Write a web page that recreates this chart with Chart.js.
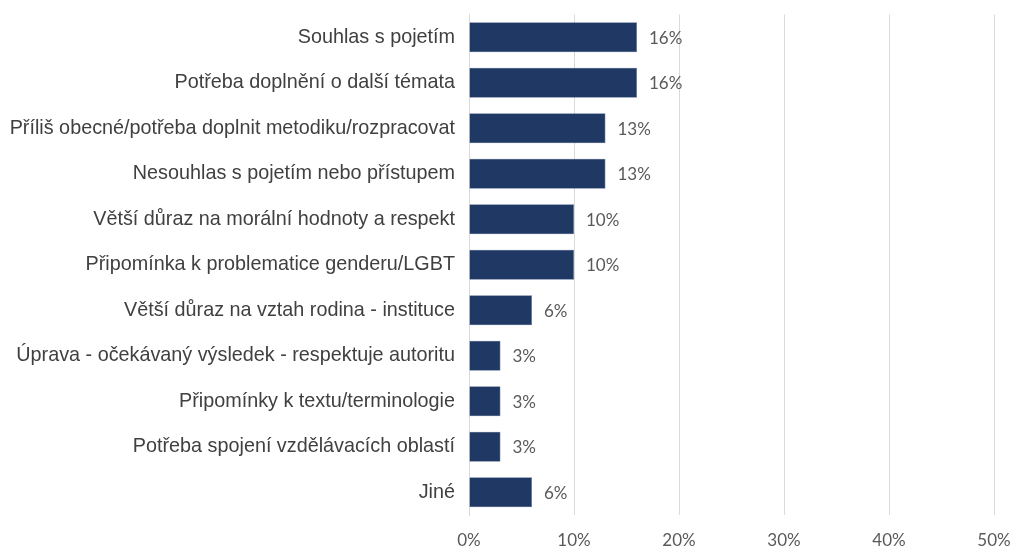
<!DOCTYPE html>
<html>
<head>
<meta charset="utf-8">
<script src="https://cdn.jsdelivr.net/npm/chart.js@4"></script>
<style>
  html, body { margin: 0; padding: 0; background: #fff; }
  #wrap { width: 1014px; height: 549px; }
</style>
</head>
<body>
<div id="wrap"><canvas id="chart" width="1014" height="549"></canvas></div>
<script>
const categories = [
  'Souhlas s pojetím',
  'Potřeba doplnění o další témata',
  'Příliš obecné/potřeba doplnit metodiku/rozpracovat',
  'Nesouhlas s pojetím nebo přístupem',
  'Větší důraz na morální hodnoty a respekt',
  'Připomínka k problematice genderu/LGBT',
  'Větší důraz na vztah rodina - instituce',
  'Úprava - očekávaný výsledek - respektuje autoritu',
  'Připomínky k textu/terminologie',
  'Potřeba spojení vzdělávacích oblastí',
  'Jiné'
];
const shares = [16, 16, 13, 13, 10, 10, 6, 3, 3, 3, 6];
const tickValues = [0, 10, 20, 30, 40, 50];

const numFont = 'Lato, "Open Sans", sans-serif';

// labels at the end of each bar
const barLabels = {
  id: 'barLabels',
  afterDatasetsDraw(chart) {
    const ctx = chart.ctx;
    const meta = chart.getDatasetMeta(0);
    ctx.save();
    ctx.font = '17px ' + numFont;
    ctx.fillStyle = '#595959';
    ctx.textAlign = 'left';
    ctx.textBaseline = 'middle';
    meta.data.forEach((bar, i) => {
      ctx.fillText(shares[i] + '%', bar.x + 12, bar.y + 1);
    });
    ctx.restore();
  }
};

new Chart(document.getElementById('chart'), {
  type: 'bar',
  data: {
    labels: categories,
    datasets: [{
      data: shares,
      backgroundColor: '#203864',
      borderColor: '#5a6f96',
      borderWidth: 0.6,
      categoryPercentage: 1,
      barPercentage: 0.66
    }]
  },
  options: {
    indexAxis: 'y',
    responsive: false,
    animation: false,
    layout: { padding: { top: 14.5, right: 20, left: 0, bottom: 0 } },
    plugins: {
      legend: { display: false },
      tooltip: { enabled: false }
    },
    scales: {
      x: {
        min: 0,
        max: 50,
        afterBuildTicks(scale) {
          scale.ticks = tickValues.map(v => ({ value: v }));
        },
        afterFit(scale) {
          scale.height = 34;
          scale.paddingLeft = 0;
          scale.paddingRight = 0;
        },
        grid: { color: '#d9d9d9', lineWidth: 1, drawTicks: false },
        border: { display: false },
        ticks: {
          padding: 15,
          color: '#595959',
          font: { family: numFont, size: 17 },
          callback: v => v + '%'
        }
      },
      y: {
        afterFit(scale) {
          scale.width = 469;
          scale.paddingTop = 0;
          scale.paddingBottom = 0;
        },
        grid: { display: false, drawTicks: false },
        border: { display: true, color: '#d9d9d9', width: 1 },
        ticks: {
          padding: 14,
          color: '#404040',
          font: { family: '"Liberation Sans", Arial, sans-serif', size: 19.8 }
        }
      }
    }
  },
  plugins: [barLabels]
});
</script>
</body>
</html>
